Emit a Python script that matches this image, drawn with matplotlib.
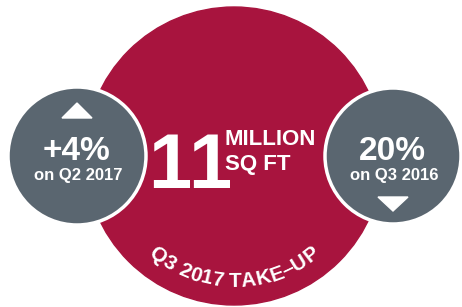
import numpy as np
import matplotlib
matplotlib.use("Agg")
import matplotlib.pyplot as plt
from matplotlib.patches import Circle, Polygon

# infographic content
headline = "11"
unit_lines = ["MILLION", "SQ FT"]
caption = "Q3 2017 TAKE\u2013UP"
changes = ["+4%", "20%"]
change_labels = ["on Q2 2017", "on Q3 2016"]
directions = ["up", "down"]

RED = "#A8143E"
GREY = "#5A6670"
SANS = ["Liberation Sans", "DejaVu Sans"]

fig = plt.figure(figsize=(4.62, 3.07), dpi=100)
ax = fig.add_axes([0, 0, 1, 1])
ax.set_xlim(0, 462)
ax.set_ylim(307, 0)
ax.axis("off")

# big red circle
cx, cy, R = 234, 156, 149
ax.add_patch(Circle((cx, cy), R, color=RED, zorder=1))

# side circles (centre x, centre y, radius)
side = [(77, 156, 69), (393, 156, 68)]
for (x, y, r), val, lab, d in zip(side, changes, change_labels, directions):
    ax.add_patch(Circle((x, y), r, facecolor=GREY, edgecolor="white",
                        lw=2.5, zorder=2))
    ax.text(x - 1, y + 4, val, color="white", fontsize=24, fontweight="bold",
            family=SANS, ha="center", va="baseline", zorder=3)
    ax.text(x + 1, y + 24, lab, color="white", fontsize=12, fontweight="bold",
            family=SANS, ha="center", va="baseline", zorder=3)
    if d == "up":
        tri = [(x - 15, y - 38), (x + 15, y - 38), (x, y - 53)]
    else:
        tri = [(x - 15, y + 41), (x + 15, y + 41), (x, y + 55)]
    ax.add_patch(Polygon(tri, closed=True, color="white", zorder=3))

# centre headline, digits placed one by one so they sit close together
for i, ch in enumerate(headline):
    ax.text(170 + 40 * i, 188, ch, color="white", fontsize=56,
            fontweight="bold", family=SANS, ha="center", va="baseline",
            zorder=3)
ax.text(225, 145, unit_lines[0], color="white", fontsize=16, fontweight="bold",
        family=SANS, ha="left", va="baseline", zorder=3)
ax.text(225, 170, unit_lines[1], color="white", fontsize=16, fontweight="bold",
        family=SANS, ha="left", va="baseline", zorder=3)

# curved caption along the bottom of the red circle
fig.canvas.draw()
renderer = fig.canvas.get_renderer()
rb = 131  # baseline radius
target = np.radians(82) * rb


def char_widths(fs):
    out = []
    for ch in caption:
        s = "a a" if ch == " " else ch
        t = ax.text(0, 0, s, fontsize=fs, fontweight="bold", family=SANS)
        w = t.get_window_extent(renderer).width
        t.remove()
        if ch == " ":
            t2 = ax.text(0, 0, "aa", fontsize=fs, fontweight="bold", family=SANS)
            w -= t2.get_window_extent(renderer).width
            t2.remove()
        out.append(w)
    return np.array(out)


w10 = char_widths(10)
fs = min(16, 10 * target / w10.sum() * 0.97)
widths = char_widths(fs)
extra = (target - widths.sum()) / (len(widths) - 1)
adv = widths + extra
pos = np.cumsum(adv) - adv / 2 - (adv.sum() - extra) / 2
for ch, s in zip(caption, pos):
    a = s / rb
    x = cx + rb * np.sin(a)
    y = cy + rb * np.cos(a)
    ax.text(x, y, ch, color="white", fontsize=fs, fontweight="bold",
            family=SANS, ha="center", va="baseline",
            rotation=np.degrees(a), rotation_mode="anchor", zorder=3)

fig.savefig("out.png", dpi=100)
